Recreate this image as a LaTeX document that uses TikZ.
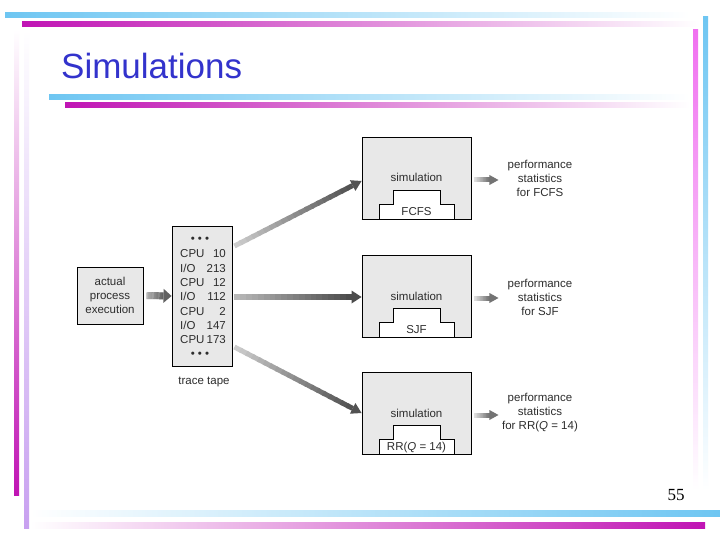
\documentclass[tikz,border=0pt]{standalone}
\usepackage{fontspec}
\setmainfont{Liberation Sans}
\newfontfamily\numfont{Liberation Serif}
\usetikzlibrary{calc}
\definecolor{titleblue}{RGB}{51,51,204}
\definecolor{barcyan}{RGB}{110,198,242}
\definecolor{barmag}{RGB}{192,20,180}
\definecolor{barpink}{RGB}{240,112,240}
\definecolor{barlav}{RGB}{200,160,240}
\definecolor{boxgray}{RGB}{232,232,232}
\definecolor{txt}{RGB}{45,45,45}
% #1 start, #2 end, #3 shaft width, #4 start black%, #5 end black%, #6 tip length, #7 tip half width
\newcommand{\gradarrow}[7]{%
  \coordinate (gS) at ($(#2)!#6!(#1)$);
  \foreach \i in {0,...,19}{%
    \pgfmathsetmacro{\cc}{#4+(#5-#4)*\i/19}%
    \draw[line width=#3, black!\cc] ($(#1)!\i/20!(gS)$) -- ($(#1)!{min(1,(\i+1.3)/20)}!(gS)$);
  }%
  \fill[black!#5] (#2) -- ($(gS)!#7!90:(#2)$) -- ($(gS)!#7!-90:(#2)$) -- cycle;
}
\begin{document}
\begin{tikzpicture}[x=1pt,y=-1pt,
  box/.style={draw=black, line width=0.9pt, fill=boxgray, inner sep=0pt, anchor=center},
  lbl/.style={font=\fontsize{11.5}{13}\selectfont, text=txt, inner sep=0pt, text height=8.3pt, text depth=2.3pt},
  tl/.style={lbl, anchor=west},
  tn/.style={lbl, anchor=east},
  stat/.style={font=\fontsize{11.5}{14}\selectfont, text=txt, inner sep=0pt, align=center},
  stepfill/.style={fill=white},
  stepline/.style={draw=black, line width=0.8pt}]
\useasboundingbox (0,0) rectangle (720,540);
\fill[white] (0,0) rectangle (720,540);

% decorative bars
\shade[left color=barcyan, right color=white] (5,13) rectangle (690,18);
\shade[left color=barmag, right color=white] (22,22) rectangle (700,27);
\shade[left color=barcyan, right color=white] (49,95) rectangle (690,100);
\shade[left color=barmag, right color=white] (65,103) rectangle (690,108);
\shade[top color=barpink, bottom color=white] (693,30) rectangle (698,490);
\shade[top color=barcyan, bottom color=white] (703,17) rectangle (708,490);
\shade[bottom color=barmag, top color=white] (14,30) rectangle (19,495);
\shade[bottom color=barlav, top color=white] (24,30) rectangle (29,528);
\shade[left color=white, right color=barcyan] (30,510) rectangle (720,516);
\shade[left color=white, right color=barmag] (30,522) rectangle (705,528);

% title and page number
\node[anchor=base west, inner sep=0pt, text=titleblue, font=\fontsize{35}{40}\selectfont] (title) at (61,79) {Simulations};
\node[inner sep=0pt, font=\numfont\fontsize{17}{20}\selectfont] (pnum) at (676,495) {55};

% actual process execution
\node[box, minimum width=66pt, minimum height=57pt] (act) at (110,295.5) {};
\node[lbl] (act1) at (110,282) {actual};
\node[lbl] (act2) at (110,296) {process};
\node[lbl] (act3) at (110,310) {execution};

% trace tape
\node[box, minimum width=60pt, minimum height=140pt] (tape) at (202,296) {};
\node[lbl] (dots1) at (200,240) {• • •};
\node[tl] (l1) at (180,254) {CPU}; \node[tn] (n1) at (226,254) {10};
\node[tl] (l2) at (180,269) {I/O}; \node[tn] (n2) at (226,269) {213};
\node[tl] (l3) at (180,283) {CPU}; \node[tn] (n3) at (226,283) {12};
\node[tl] (l4) at (180,297) {I/O}; \node[tn] (n4) at (226,297) {112};
\node[tl] (l5) at (180,312) {CPU}; \node[tn] (n5) at (226,312) {2};
\node[tl] (l6) at (180,326) {I/O}; \node[tn] (n6) at (226,326) {147};
\node[tl] (l7) at (180,340) {CPU}; \node[tn] (n7) at (226,340) {173};
\node[lbl] (dots2) at (200,354) {• • •};
\node[lbl] (tapelbl) at (204,381) {trace tape};

% simulation boxes
\foreach \nm/\yy/\lab in {s1/178/FCFS, s2/296/SJF, s3/413/{RR(\textit{Q} = 14)}}{
  \node[box, minimum width=109pt, minimum height=82pt] (\nm) at (416.5,\yy) {};
  \fill[stepfill] ($(\nm.south)+(-37.5,0)$) -- ++(0,-15) -- ++(14,0) -- ++(0,-14) -- ++(47,0) -- ++(0,14) -- ++(14,0) -- ++(0,15) -- cycle;
  \draw[stepline] ($(\nm.south)+(-37.5,0)$) -- ++(0,-15) -- ++(14,0) -- ++(0,-14) -- ++(47,0) -- ++(0,14) -- ++(14,0) -- ++(0,15);
  \draw[line width=0.9pt] (\nm.south west) -- (\nm.south east);
  \node[lbl] (\nm sim) at ($(\nm.center)+(0,1)$) {simulation};
  \node[lbl] (\nm lab) at ($(\nm.south)+(0,-7)$) {\lab};
}

% statistics
\node[stat] (st1) at (540,178) {performance\\statistics\\for FCFS};
\node[stat] (st2) at (540,297) {performance\\statistics\\for SJF};
\node[stat] (st3) at (540,413) {performance\\statistics\\for RR(\textit{Q} = 14)};

% connectors
\coordinate (a0) at ($(act.east)+(3,0)$);
\coordinate (a1) at ($(tape.west)+(0,0)$);
\gradarrow{a0}{a1}{7pt}{30}{62}{8pt}{7pt}

\coordinate (t1) at ($(tape.east)+(2,-50)$);
\coordinate (e1) at ($(s1.west)+(0,3)$);
\gradarrow{t1}{e1}{5pt}{20}{68}{10pt}{6pt}
\coordinate (t2) at ($(tape.east)+(2,1)$);
\coordinate (e2) at ($(s2.west)+(0,1)$);
\gradarrow{t2}{e2}{6pt}{28}{70}{10pt}{6.5pt}
\coordinate (t3) at ($(tape.east)+(2,51)$);
\coordinate (e3) at ($(s3.west)+(0,0)$);
\gradarrow{t3}{e3}{5pt}{20}{68}{10pt}{6pt}

\coordinate (p1) at ($(s1.east)+(3,2)$);
\coordinate (q1) at ($(s1.east)+(27,2)$);
\gradarrow{p1}{q1}{5pt}{12}{55}{9pt}{5pt}
\coordinate (p2) at ($(s2.east)+(3,2)$);
\coordinate (q2) at ($(s2.east)+(27,2)$);
\gradarrow{p2}{q2}{5pt}{12}{55}{9pt}{5pt}
\coordinate (p3) at ($(s3.east)+(3,2)$);
\coordinate (q3) at ($(s3.east)+(27,2)$);
\gradarrow{p3}{q3}{5pt}{12}{55}{9pt}{5pt}
\end{tikzpicture}
\end{document}
